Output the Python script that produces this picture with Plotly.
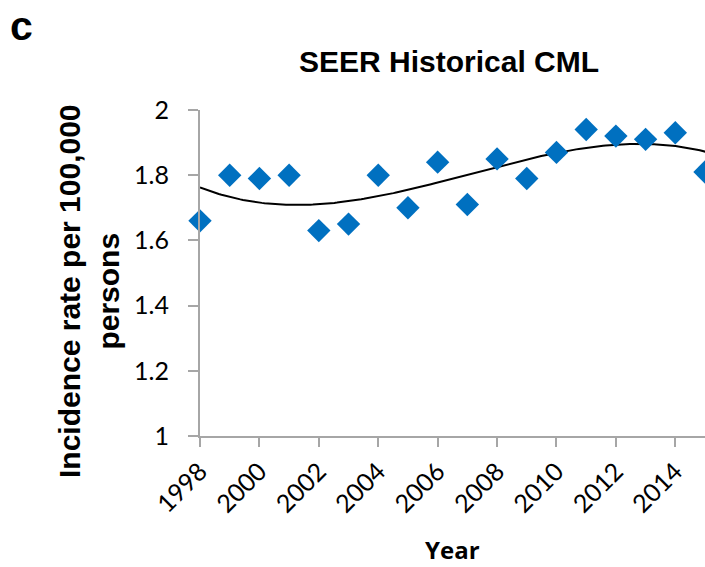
import numpy as np
import plotly.graph_objects as go

years = list(range(1998, 2016))
rates = [1.66, 1.80, 1.79, 1.80, 1.63, 1.65, 1.80, 1.70, 1.84, 1.71,
         1.85, 1.79, 1.87, 1.94, 1.92, 1.91, 1.93, 1.81]
tick_years = [1998, 2000, 2002, 2004, 2006, 2008, 2010, 2012, 2014]
y_ticks = [1, 1.2, 1.4, 1.6, 1.8, 2]
y_tick_labels = ["1", "1.2", "1.4", "1.6", "1.8", "2"]

# Polynomial (order 3) trendline, as in the original spreadsheet chart
coef = np.polyfit(np.array(years) - 1998, rates, 3)
xs = np.linspace(1998, 2016, 200)
ys = np.polyval(coef, xs - 1998)

# window pixel -> paper coordinate helpers (plot area 200..705 x 110..436)
def px(xw):
    return (xw - 200) / 505.0

def py(yw):
    return (436 - yw) / 326.0

fig = go.Figure()
fig.add_trace(go.Scatter(x=xs, y=ys, mode="lines",
                         line=dict(color="black", width=2), hoverinfo="skip"))
fig.add_trace(go.Scatter(x=years, y=rates, mode="markers",
                         marker=dict(symbol="diamond", size=18, color="#0070C0"),
                         cliponaxis=False))

axis_gray = "#a6a6a6"
tick_font = dict(size=25, family="Lato, Open Sans, Liberation Sans", color="black")

fig.update_layout(
    width=705, height=567,
    margin=dict(l=200, r=0, t=110, b=131),
    paper_bgcolor="white", plot_bgcolor="white",
    showlegend=False,
    font=dict(family="Liberation Sans, Arial", color="black"),
)
fig.update_xaxes(range=[1998, 2015], tickvals=tick_years,
                 ticktext=[str(t) for t in tick_years], tickangle=-45,
                 showgrid=False, zeroline=False, showline=True,
                 linecolor=axis_gray, linewidth=2, ticks="outside",
                 ticklen=9, tickwidth=2, tickcolor=axis_gray,
                 tickfont=tick_font)
fig.update_yaxes(range=[1, 2], tickvals=y_ticks, ticktext=y_tick_labels,
                 showgrid=False, zeroline=False, showline=True,
                 linecolor=axis_gray, linewidth=2, ticks="outside",
                 ticklen=10, tickwidth=2, tickcolor=axis_gray,
                 ticklabelstandoff=14,
                 tickfont=tick_font)

fig.add_annotation(text="<b>c</b>", xref="paper", yref="paper",
                   x=px(21), y=py(1), xanchor="center", yanchor="top",
                   showarrow=False, font=dict(size=41, family="Liberation Sans"))
fig.add_annotation(text="<b>SEER Historical CML</b>", xref="paper", yref="paper",
                   x=px(449), y=py(62), xanchor="center", yanchor="middle",
                   showarrow=False, font=dict(size=30, family="Liberation Sans"))
fig.add_annotation(text="<b>Incidence rate per 100,000<br>persons</b>",
                   xref="paper", yref="paper", textangle=-90,
                   x=px(89), y=py(291), xanchor="center", yanchor="middle",
                   showarrow=False, font=dict(size=30, family="Liberation Sans"))
fig.add_annotation(text="<b>Year</b>", xref="paper", yref="paper",
                   x=px(452), y=py(549), xanchor="center", yanchor="middle",
                   showarrow=False, font=dict(size=24, family="Open Sans"))

fig.write_html("out.html",
               config={"displayModeBar": False},
               post_script="document.body.style.margin='0';")
